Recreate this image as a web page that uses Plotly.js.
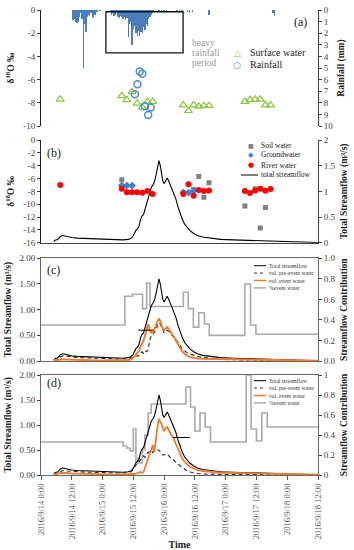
<!DOCTYPE html>
<html><head><meta charset="utf-8">
<script src="https://cdn.plot.ly/plotly-3.0.1.min.js"></script>
<style>html,body{margin:0;padding:0;background:#fff}#chart{width:354px;height:550px}</style>
</head><body><div id="chart"></div>
<script>
// ---------------- DATA (hours since 2016-09-14 00:00) ----------------
const rainHours = [12.5,13,13.5,14,14.5,15,15.5,16,16.5,17,17.5,18,18.5,19,19.5,20,20.5,21,21.5,22,23,
  27,27.5,28,28.5,29,29.5,30,30.5,31,31.5,32,32.5,33,33.5,34,34.5,35,35.5,36,36.5,37,37.5,38,38.5,39,39.5,40,40.5,41,41.5,42,42.5,43,43.5,44,45,46,47,48,49,
  53,54,55,57,58,59,65.5,90.5,91];
const rainMm = [0.9,0.8,1.0,1.1,1.0,0.6,0.3,0.8,5.0,1.2,1.9,0.6,0.4,0.5,0.3,0.6,0.7,0.4,0.2,0.2,0.1,
  0.2,0.4,0.3,0.5,0.4,0.2,0.6,0.7,0.5,0.6,0.8,0.6,0.9,0.7,2.3,1.2,1.0,3.0,1.6,1.4,2.0,2.2,1.8,2.2,1.9,2.0,1.5,1.7,1.2,1.4,0.8,0.6,0.4,0.3,0.2,0.1,0.15,0.1,0.15,0.1,
  0.2,0.25,0.15,0.2,0.25,0.15,0.4,0.3,0.5];

const sampleHours = [7.5,31.5,33.5,35.5,37.5,39.5,41.5,43.5,55.5,57.5,59.5,61.5,63.5,65.5,79.5,81.5,83.5,85.5,87.5,89.5];
const surfaceDelta = [-7.7,-7.4,-7.75,-7.05,-8.05,-8.4,-7.9,-7.9,-8.2,-8.7,-8.2,-8.3,-8.25,-8.25,-7.9,-7.75,-7.7,-7.7,-8.2,-8.2];
const rainSampleHours = [36.6,37.6,38.5,39.5,40.5,41.8,42.8];
const rainSampleDelta = [-7.27,-6.4,-5.3,-5.5,-8.3,-9.05,-8.4];

const riverDelta = [-7.0,-7.6,-8.15,-8.15,-8.15,-8.2,-7.95,-8.4,-8.4,-6.9,-8.7,-7.8,-7.95,-7.85,-7.95,-8.25,-7.85,-7.6,-7.9,-7.65];
const groundHours = [31.5,33.5,35.5,55.5,57.5,59.5];
const groundDelta = [-7.1,-7.1,-7.1,-8.15,-8.2,-7.9];
const soilHours = [31.5,59.5,61.5,63.5,65.5,79.5,83.5,85.5,87.5];
const soilDelta = [-6.2,-7.7,-5.7,-8.9,-6.65,-10.3,-7.6,-13.7,-10.5];

const flowHours = [5,5.5,6.5,7.5,8.5,10,12,14,16,18,20,22,24,26,28,30,32,34,35,35.8,36.4,37,37.6,38.2,38.8,39.4,40,40.6,41.2,41.8,42.4,43,43.6,44.2,44.8,45.4,46,46.5,47,47.5,48,48.6,49.2,49.8,50.4,51,51.8,52.6,53.4,54.2,55,56,57,58,59.5,61,63,66,70,75,80,85,90,95,100,104,108];
const flowTotal = [0.02,0.05,0.06,0.12,0.14,0.12,0.10,0.09,0.085,0.08,0.075,0.07,0.065,0.06,0.055,0.05,0.055,0.065,0.08,0.12,0.2,0.24,0.27,0.32,0.45,0.52,0.55,0.66,0.78,0.9,1.0,1.08,1.12,1.18,1.3,1.42,1.6,1.5,1.35,1.2,1.15,1.22,1.26,1.2,1.12,1.05,0.97,0.85,0.7,0.57,0.47,0.36,0.3,0.24,0.18,0.14,0.11,0.085,0.065,0.055,0.045,0.035,0.03,0.02,0.01,0.005,0.003];
const preEventC = [0.01,0.03,0.04,0.08,0.1,0.09,0.075,0.07,0.065,0.06,0.06,0.058,0.055,0.05,0.045,0.04,0.043,0.045,0.05,0.07,0.1,0.1,0.1,0.1,0.14,0.18,0.15,0.2,0.18,0.22,0.4,0.5,0.52,0.55,0.6,0.68,0.75,0.72,0.65,0.58,0.55,0.58,0.6,0.58,0.54,0.5,0.48,0.42,0.36,0.3,0.24,0.2,0.16,0.14,0.11,0.09,0.07,0.05,0.035,0.025,0.02,0.015,0.012,0.01,0.008,0.005,0.003];
const eventC = [0.01,0.02,0.02,0.03,0.035,0.03,0.025,0.02,0.02,0.015,0.015,0.012,0.01,0.01,0.01,0.01,0.012,0.02,0.03,0.05,0.08,0.12,0.15,0.2,0.28,0.33,0.4,0.5,0.6,0.72,0.6,0.55,0.58,0.62,0.7,0.78,0.83,0.78,0.68,0.62,0.6,0.64,0.66,0.62,0.58,0.53,0.47,0.4,0.32,0.25,0.19,0.14,0.1,0.08,0.06,0.05,0.045,0.04,0.035,0.03,0.03,0.025,0.02,0.015,0.01,0.005,0.003];
const preEventD = [0.01,0.03,0.035,0.07,0.09,0.08,0.07,0.065,0.06,0.055,0.055,0.05,0.05,0.045,0.045,0.04,0.045,0.05,0.06,0.1,0.16,0.2,0.22,0.25,0.3,0.34,0.38,0.35,0.42,0.45,0.48,0.5,0.45,0.47,0.5,0.5,0.5,0.47,0.43,0.4,0.4,0.42,0.42,0.38,0.35,0.33,0.3,0.25,0.22,0.18,0.15,0.11,0.08,0.06,0.04,0.03,0.02,0.015,0.01,0.01,0.008,0.006,0.005,0.004,0.003,0.002,0.001];
const eventD = [0.01,0.02,0.025,0.04,0.045,0.04,0.03,0.025,0.02,0.02,0.015,0.012,0.01,0.01,0.008,0.008,0.01,0.01,0.012,0.015,0.02,0.03,0.04,0.05,0.06,0.04,0.06,0.15,0.24,0.3,0.4,0.48,0.6,0.46,0.75,0.95,1.12,1.08,1.02,0.93,0.88,0.94,0.96,0.9,0.85,0.78,0.72,0.62,0.52,0.42,0.34,0.26,0.22,0.17,0.13,0.1,0.08,0.06,0.045,0.04,0.04,0.03,0.025,0.02,0.012,0.008,0.005];

const stepHoursC = [0,32.7,35.7,39.6,41.2,42.5,55.5,57.4,59.4,61.5,63.7,65.6,79.5,81.7,83.8,108];
const stepFracC  = [0.35,0.63,0.65,0.51,0.76,0.53,0.67,0.51,0.33,0.47,0.36,0.25,0.75,0.35,0.26,0.26];
const stepHoursD = [0,32,33.4,34.7,36,37,37.8,38.5,39.5,40.5,41.8,43,56.5,58.3,60,62,64,66.1,80,81.9,84,86.1,88.2,108];
const stepFracD  = [0.33,0.29,0.27,0.24,0.46,0.12,0.17,0.12,0.25,0.4,0.62,0.71,0.88,0.68,0.44,0.62,0.48,0.33,1.0,0.46,0.34,0.62,0.48,0.48];

const markHoursC = [38,43.6], markFlowC = [0.6,0.6];
const markHoursD = [51.5,58], markFlowD = [0.75,0.75];

const deltaTicksA = [0,-2,-4,-6,-8,-10];
const deltaTicksB = [0,-2,-4,-6,-8,-10,-12,-14,-16];

// ---------------- HELPERS ----------------
const START_DATE = Date.UTC(2016, 8, 14, 0, 0, 0);
function hToDate(h){ const d = new Date(START_DATE + Math.round(h*3600000)); return d.toISOString().slice(0,19).replace('T',' '); }
const W = 354, H = 550, ML = 41, MR = 36, PW = W - ML - MR;
function px(X){ return (X - ML)/PW; }
function py(Y){ return 1 - Y/H; }
const SERIF = 'Liberation Serif, Times New Roman, serif';
const tickFont = {family: SERIF, size: 9, color: '#404040'};
const titleFont = {family: SERIF, size: 9.5, color: '#222'};
const dA = [py(126), py(10)], dB = [py(242.7), py(140)], dC = [py(361), py(258.3)], dD = [py(475), py(375)];

// ---------------- TRACES ----------------
const traces = [
  {type:'bar', x: rainHours.map(hToDate), y: rainMm, xaxis:'x', yaxis:'y', width: 0.5*3600000,
   marker:{color:'#4a7ebb', line:{width:0}}, name:'Rainfall depth', showlegend:false},
  {type:'scatter', mode:'markers', x: sampleHours.map(hToDate), y: surfaceDelta, xaxis:'x', yaxis:'y2', name:'Surface water',
   marker:{symbol:'triangle-up-open', size:7, color:'#8dc63f', line:{width:1.3}}, showlegend:false},
  {type:'scatter', mode:'markers', x: rainSampleHours.map(hToDate), y: rainSampleDelta, xaxis:'x', yaxis:'y2', name:'Rainfall',
   marker:{symbol:'circle-open', size:7, color:'#4a8bd6', line:{width:1.5}}, showlegend:false},

  {type:'scatter', mode:'lines', x: flowHours.map(hToDate), y: flowTotal, xaxis:'x2', yaxis:'y3', name:'total streamflow',
   line:{color:'#000', width:1.1}, showlegend:false},
  {type:'scatter', mode:'markers', x: soilHours.map(hToDate), y: soilDelta, xaxis:'x2', yaxis:'y4', name:'Soil water',
   marker:{symbol:'square', size:5, color:'#808080'}, showlegend:false},
  {type:'scatter', mode:'markers', x: groundHours.map(hToDate), y: groundDelta, xaxis:'x2', yaxis:'y4', name:'Groundwater',
   marker:{symbol:'diamond', size:6, color:'#3f7fcf'}, showlegend:false},
  {type:'scatter', mode:'markers', x: sampleHours.map(hToDate), y: riverDelta, xaxis:'x2', yaxis:'y4', name:'River water',
   marker:{symbol:'circle', size:6, color:'#ff0000'}, showlegend:false},

  {type:'scatter', mode:'lines', x: stepHoursC.map(hToDate), y: stepFracC, xaxis:'x3', yaxis:'y5', name:'%event water',
   line:{color:'#aaaaaa', width:1.6, shape:'hv'}, showlegend:false},
  {type:'scatter', mode:'lines', x: flowHours.map(hToDate), y: flowTotal, xaxis:'x3', yaxis:'y6', name:'Total streamflow',
   line:{color:'#000', width:1.1}, showlegend:false},
  {type:'scatter', mode:'lines', x: flowHours.map(hToDate), y: preEventC, xaxis:'x3', yaxis:'y6', name:'vol. pre-event water',
   line:{color:'#333', width:1.2, dash:'4px,3px'}, showlegend:false},
  {type:'scatter', mode:'lines', x: flowHours.map(hToDate), y: eventC, xaxis:'x3', yaxis:'y6', name:'vol. event water',
   line:{color:'#ed7d31', width:2}, showlegend:false},
  {type:'scatter', mode:'lines', x: markHoursC.map(hToDate), y: markFlowC, xaxis:'x3', yaxis:'y6', name:'marker c',
   line:{color:'#000', width:1}, showlegend:false},

  {type:'scatter', mode:'lines', x: stepHoursD.map(hToDate), y: stepFracD, xaxis:'x4', yaxis:'y7', name:'%event water',
   line:{color:'#aaaaaa', width:1.6, shape:'hv'}, showlegend:false},
  {type:'scatter', mode:'lines', x: flowHours.map(hToDate), y: flowTotal, xaxis:'x4', yaxis:'y8', name:'Total streamflow',
   line:{color:'#000', width:1.1}, showlegend:false},
  {type:'scatter', mode:'lines', x: flowHours.map(hToDate), y: preEventD, xaxis:'x4', yaxis:'y8', name:'vol. pre-event water',
   line:{color:'#333', width:1.2, dash:'4px,3px'}, showlegend:false},
  {type:'scatter', mode:'lines', x: flowHours.map(hToDate), y: eventD, xaxis:'x4', yaxis:'y8', name:'vol. event water',
   line:{color:'#ed7d31', width:1.8}, showlegend:false},
  {type:'scatter', mode:'lines', x: markHoursD.map(hToDate), y: markFlowD, xaxis:'x4', yaxis:'y8', name:'marker d',
   line:{color:'#000', width:1}, showlegend:false}
];

// ---------------- LAYOUT ----------------
const xRange = [hToDate(0), hToDate(108)];
const xBase = {type:'date', range:xRange, showgrid:false, zeroline:false, showticklabels:false, ticks:'', fixedrange:true, automargin:false};
const yBase = {showgrid:false, zeroline:false, showline:true, linecolor:'#444', linewidth:1, ticks:'outside', ticklen:3,
  tickcolor:'#444', tickfont:tickFont, automargin:false, fixedrange:true};

const annotations = [];
const shapes = [];
function ann(X, Y, text, size, color, anchor, family){
  annotations.push({xref:'paper', yref:'paper', x:px(X), y:py(Y), text:text, showarrow:false,
    xanchor:anchor||'left', yanchor:'middle', font:{family:family||SERIF, size:size, color:color||'#222'}});
}
function legLine(X0, X1, Y, color, width, dash){
  shapes.push({type:'line', xref:'paper', yref:'paper', x0:px(X0), x1:px(X1), y0:py(Y), y1:py(Y), line:{color:color, width:width, dash:dash||'solid'}});
}

// panel labels
ann(300, 22.5, '(a)', 12, '#222', 'center');
ann(53.5, 153, '(b)', 12, '#222', 'center');
ann(53.5, 270, '(c)', 12, '#222', 'center');
ann(53.5, 383, '(d)', 12, '#222', 'center');

// heavy rainfall period note
ann(190, 43.3, 'heavy', 9.5, '#999');
ann(190, 53.3, 'rainfall', 9.5, '#999');
ann(190, 63.3, 'period', 9.5, '#999');
shapes.push({type:'rect', xref:'x', yref:'y2', x0:hToDate(25.3), x1:hToDate(55.4), y0:-0.15, y1:-3.7, line:{color:'#111', width:1.3}});

// legend (a)
ann(237, 52.5, '△', 9, '#8dc63f', 'center', 'DejaVu Sans');
ann(248, 52.5, 'Surface water', 10);
ann(237, 64.5, '○', 9, '#4a8bd6', 'center', 'DejaVu Sans');
ann(248, 64.5, 'Rainfall', 10);

// legend (b)
ann(251, 145, '■', 6, '#808080', 'center', 'DejaVu Sans');
ann(259, 145, 'Soil water', 7.5);
ann(251, 155, '◆', 7, '#3f7fcf', 'center', 'DejaVu Sans');
ann(259, 155, 'Groundwater', 7.5);
ann(251, 165, '●', 7, '#ff0000', 'center', 'DejaVu Sans');
ann(259, 165, 'River water', 7.5);
legLine(241, 258, 175, '#000', 1);
ann(259, 175, 'total streamflow', 7.5);

// legend (c) and (d)
function flowLegend(Y0){
  const rows = [['Total streamflow','#000',1,'solid'],['vol. pre-event water','#333',1,'dot'],['vol. event water','#ed7d31',1.5,'solid'],['%event water','#aaaaaa',1.5,'solid']];
  rows.forEach((r,i)=>{ const Y = Y0 + i*7.4; legLine(254, 266, Y, r[1], r[2], r[3]); ann(266.5, Y, r[0], 5.6, '#333'); });
}
flowLegend(265.7);
flowLegend(380.7);

const layout = {
  width: W, height: H, margin:{l:ML, r:MR, t:0, b:0}, paper_bgcolor:'#fff', plot_bgcolor:'rgba(0,0,0,0)',
  font:{family:SERIF, size:9, color:'#333'}, showlegend:false, bargap:0,
  xaxis: Object.assign({}, xBase, {anchor:'y', showline:false}),
  xaxis2: Object.assign({}, xBase, {anchor:'y3', showline:true, linecolor:'#444', linewidth:1}),
  xaxis3: Object.assign({}, xBase, {anchor:'y5', showline:true, mirror:true, linecolor:'#666', linewidth:1}),
  xaxis4: Object.assign({}, xBase, {anchor:'y7', showline:true, mirror:true, linecolor:'#666', linewidth:1,
    showticklabels:true, ticks:'outside', ticklen:4, tickcolor:'#555', dtick:43200000, tick0:hToDate(0),
    tickformat:'%Y/%-m/%-d %-H:%M', tickangle:-90, tickfont:{family:SERIF, size:8.5, color:'#555'},
    title:{text:'<b>Time</b>', font:{family:SERIF, size:10, color:'#222'}, standoff:3}}),

  yaxis: Object.assign({}, yBase, {domain:dA, anchor:'x', side:'right', range:[10,0], dtick:1, tick0:0,
    title:{text:'<b>Rainfall (mm)</b>', font:titleFont, standoff:5}}),
  yaxis2: Object.assign({}, yBase, {overlaying:'y', anchor:'x', side:'left', range:[-10,0],
    tickvals:deltaTicksA, ticktext:deltaTicksA.map(String), linecolor:'#222',
    title:{text:'<b>δ<sup>18</sup>O ‰</b>', font:titleFont, standoff:6}}),

  yaxis3: Object.assign({}, yBase, {domain:dB, anchor:'x2', side:'right', range:[0,2], dtick:0.5,
    title:{text:'<b>Total Streamflow (m³/s)</b>', font:titleFont, standoff:5}}),
  yaxis4: Object.assign({}, yBase, {overlaying:'y3', anchor:'x2', side:'left', range:[-16,0],
    tickvals:deltaTicksB, ticktext:deltaTicksB.map(String), linecolor:'#222',
    title:{text:'<b>δ<sup>18</sup>O ‰</b>', font:titleFont, standoff:6}}),

  yaxis5: Object.assign({}, yBase, {domain:dC, anchor:'x3', side:'right', range:[0,1], dtick:0.2, tickformat:'.1f', linecolor:'#666',
    title:{text:'<b>Streamflow Contribution</b>', font:titleFont, standoff:5}}),
  yaxis6: Object.assign({}, yBase, {overlaying:'y5', anchor:'x3', side:'left', range:[0,2], dtick:0.5, tickformat:'.2f', linecolor:'#666',
    title:{text:'<b>Total Streamflow (m³/s)</b>', font:titleFont, standoff:6}}),

  yaxis7: Object.assign({}, yBase, {domain:dD, anchor:'x4', side:'right', range:[0,1], dtick:0.2, linecolor:'#666',
    title:{text:'<b>Streamflow Contribution</b>', font:titleFont, standoff:5}}),
  yaxis8: Object.assign({}, yBase, {overlaying:'y7', anchor:'x4', side:'left', range:[0,2], dtick:0.5, tickformat:'.2f', linecolor:'#666',
    title:{text:'<b>Total Streamflow (m³/s)</b>', font:titleFont, standoff:6}}),

  annotations: annotations,
  shapes: shapes
};

Plotly.newPlot('chart', traces, layout, {staticPlot:true, displayModeBar:false, responsive:false});
</script></body></html>
